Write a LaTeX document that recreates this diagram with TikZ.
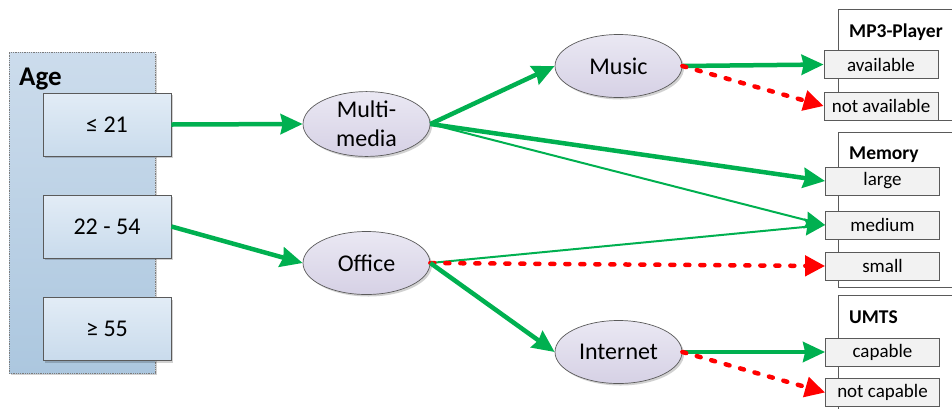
\documentclass[tikz,border=0pt]{standalone}
\usepackage{fontspec}
\setmainfont{Carlito}
\usetikzlibrary{shapes.geometric,arrows.meta,shadows}

\definecolor{grn}{RGB}{0,176,80}
\definecolor{rd}{RGB}{255,0,0}
\definecolor{panelTop}{RGB}{204,220,236}
\definecolor{panelBot}{RGB}{172,199,223}
\definecolor{ageTop}{RGB}{226,236,246}
\definecolor{ageBot}{RGB}{201,219,236}
\definecolor{ellTop}{RGB}{234,232,243}
\definecolor{ellBot}{RGB}{214,209,229}
\definecolor{optFill}{RGB}{242,242,242}
\definecolor{edge}{RGB}{90,90,90}

\tikzset{
  soft shadow/.style={drop shadow={shadow xshift=2pt, shadow yshift=-2pt, opacity=0.18, fill=black}},
  agepanel/.style={rectangle, draw=edge!80, densely dotted, line width=0.8pt,
    top color=panelTop, bottom color=panelBot, minimum width=146pt, minimum height=321pt,
    inner sep=0pt, soft shadow},
  agebox/.style={rectangle, draw=edge, line width=0.8pt, top color=ageTop, bottom color=ageBot,
    minimum width=128pt, minimum height=63pt, inner sep=0pt,
    font=\fontsize{24}{29}\selectfont, soft shadow},
  topic/.style={ellipse, draw=edge, line width=0.7pt, top color=ellTop, bottom color=ellBot,
    minimum width=127pt, minimum height=63pt, inner sep=0pt, align=center,
    font=\fontsize{24}{29}\selectfont, soft shadow},
  group/.style={rectangle, draw=edge, fill=white, line width=0.8pt, inner sep=0pt, anchor=north west},
  choice/.style={rectangle, draw=edge, fill=optFill, line width=0.8pt, minimum width=114pt,
    minimum height=28pt, inner sep=0pt, font=\fontsize{19}{23}\selectfont},
  heading/.style={anchor=base west, inner sep=0pt, font=\bfseries\fontsize{19.5}{23}\selectfont},
  strong/.style={draw=grn, line width=4.5pt, -{Triangle[length=22pt,width=20pt,inset=2pt]}},
  weak/.style={draw=grn, line width=2pt, -{Triangle[length=20pt,width=17pt,inset=2pt]}},
  never/.style={draw=rd, line width=4.5pt, line cap=round, dash pattern=on 4pt off 11pt,
    -{Triangle[length=20pt,width=20pt,line cap=butt]}},
}

\begin{document}
\begin{tikzpicture}[x=1pt,y=-1pt]
\useasboundingbox (0,0) rectangle (952,408);

% age segments
\node[agepanel] (agepanel) at (82,212.5) {};
\node[anchor=base west, inner sep=0pt, font=\bfseries\fontsize{27}{32}\selectfont] (agelabel) at (19,85) {Age};
\node[agebox] (young) at (107,124.5) {≤ 21};
\node[agebox] (mid)   at (107,226.5) {22 - 54};
\node[agebox] (old)   at (107,329)   {≥ 55};

% usage profiles
\node[topic] (mm)     at (366.5,124) {Multi-\\media};
\node[topic] (office) at (366.5,263) {Office};
\node[topic] (music)  at (618.5,66)  {Music};
\node[topic] (inet)   at (618.5,352) {Internet};

% feature groups
\node[group, minimum width=140pt, minimum height=111pt] (mp3grp) at (838,9) {};
\node[group, minimum width=140pt, minimum height=155pt] (memgrp) at (838,132) {};
\node[group, minimum width=140pt, minimum height=130pt] (umtsgrp) at (838,295) {};
\node[heading] (mp3head) at (849,37)  {MP3-Player};
\node[heading] (memhead) at (849,159) {Memory};
\node[heading] (umtshead) at (849,323) {UMTS};

\node[choice] (avail)   at (881,64.5)  {available};
\node[choice] (navail)  at (881,106)   {not available};
\node[choice] (large)   at (882.5,181) {large};
\node[choice] (medium)  at (882.5,225) {medium};
\node[choice] (small)   at (882.5,266) {small};
\node[choice] (capable) at (882.5,352) {capable};
\node[choice] (ncap)    at (882.5,392.5) {not capable};

% connections
\draw[strong] (young.east) -- (mm.west);
\draw[strong] (mid.east) -- (office.west);
\draw[strong] (mm.east) -- (music.west);
\draw[strong] (mm.east) -- (large.west);
\draw[weak]   (mm.east) -- (medium.west);
\draw[weak]   (office.east) -- (medium.west);
\draw[never]  (office.east) -- (small.west);
\draw[strong] (office.east) -- (inet.west);
\draw[strong] (music.east) -- (avail.west);
\draw[never]  (music.east) -- (navail.west);
\draw[strong] (inet.east) -- (capable.west);
\draw[never]  (inet.east) -- (ncap.west);
\end{tikzpicture}
\end{document}
